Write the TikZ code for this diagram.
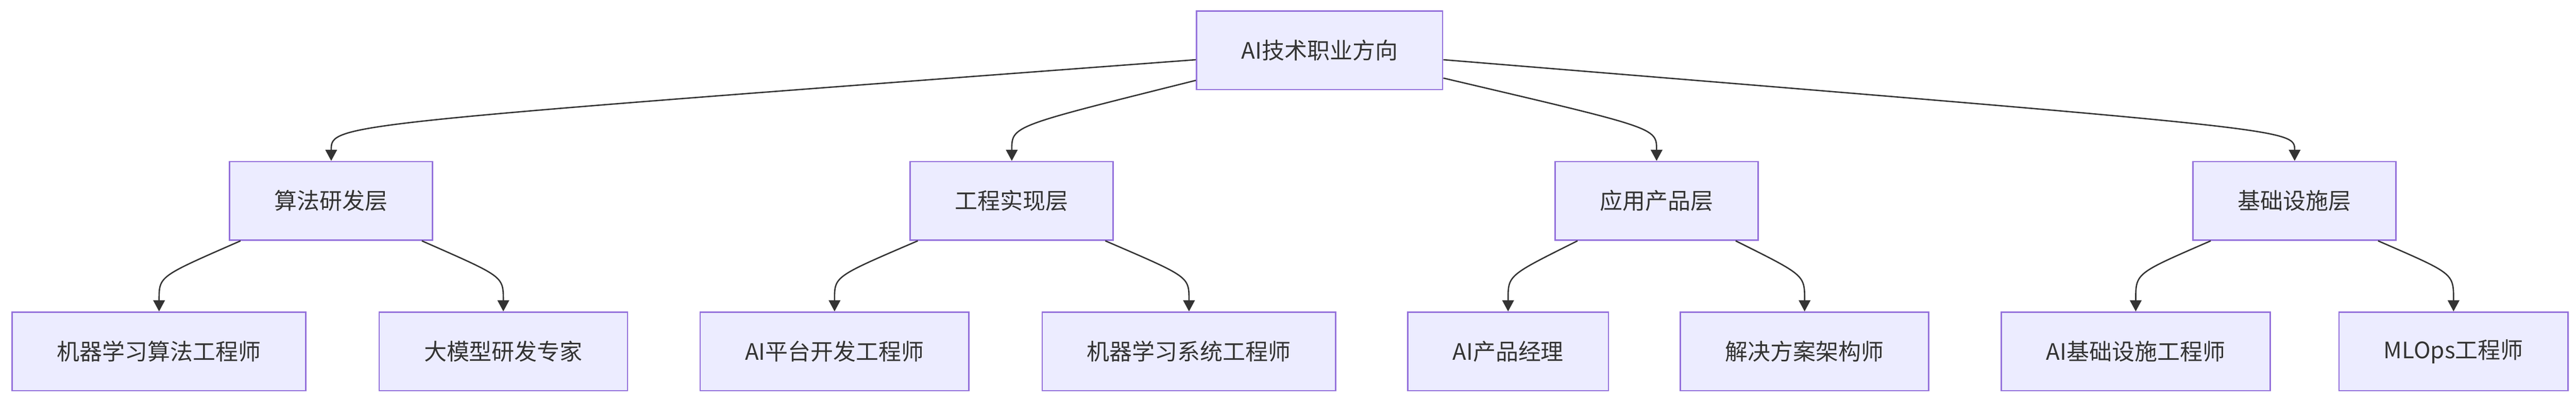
\documentclass[tikz,border=0pt]{standalone}
\usepackage{fontspec}
\setmainfont{Noto Sans CJK SC}
\usetikzlibrary{arrows.meta}

\definecolor{boxfill}{HTML}{ECECFF}
\definecolor{boxline}{HTML}{9370DB}
\definecolor{inkgray}{HTML}{333333}

\tikzstyle{block} = [
    rectangle,
    minimum height=40.75pt,
    inner xsep=23.25pt,
    text centered,
    text=inkgray,
    font=\fontsize{11.75pt}{14pt}\selectfont,
    draw=boxline,
    line width=0.75pt,
    fill=boxfill,
]
\tikzstyle{arrow} = [
    draw=inkgray,
    line width=0.7pt,
    -{Triangle[length=5.75pt,width=6pt]},
]

\begin{document}
\begin{tikzpicture}[node distance=78.125pt]
        \useasboundingbox (-684.25pt,-182.375pt) rectangle (651.5pt,26.125pt);
        \node (root) [block] {AI技术职业方向};
        % second row
        \node (algo) [block, below of=root, xshift=-512.5pt] {算法研发层};
        \node (eng) [block, below of=root, xshift=-159.6pt] {工程实现层};
        \node (app) [block, below of=root, xshift=174.75pt] {应用产品层};
        \node (infra) [block, below of=root, xshift=505.6pt] {基础设施层};
        % third row
        \node (mlalgo) [block, below of=algo, xshift=-89.25pt] {机器学习算法工程师};
        \node (llm) [block, below of=algo, xshift=89.25pt] {大模型研发专家};
        \node (platform) [block, below of=eng, xshift=-91.9pt] {AI平台开发工程师};
        \node (mlsys) [block, below of=eng, xshift=91.9pt] {机器学习系统工程师};
        \node (pm) [block, below of=app, xshift=-77pt] {AI产品经理};
        \node (arch) [block, below of=app, xshift=76.75pt] {解决方案架构师};
        \node (aiinfra) [block, below of=infra, xshift=-82.4pt] {AI基础设施工程师};
        \node (mlops) [block, below of=infra, xshift=82.4pt] {MLOps工程师};
        \draw [arrow] ([yshift=-4.875pt]root.west) .. controls +(-448.5pt,-33.7pt) and +(0,19.3pt) .. (algo.north);
        \draw [arrow] ([yshift=-15.6pt]root.west) .. controls +(-95.75pt,-23.95pt) and +(0,18.3pt) .. (eng.north);
        \draw [arrow] ([yshift=-14.4pt]root.east) .. controls +(111pt,-26.1pt) and +(0,17.4pt) .. (app.north);
        \draw [arrow] ([yshift=-4.875pt]root.east) .. controls +(441.9pt,-36.2pt) and +(0,16.8pt) .. (infra.north);
        \draw [arrow] ([xshift=6pt]algo.south west) .. controls +(-42.75pt,-18.75pt) and +(0,18.5pt) .. (mlalgo.north);
        \draw [arrow] ([xshift=-6pt]algo.south east) .. controls +(42.5pt,-18.75pt) and +(0,18.5pt) .. (llm.north);
        \draw [arrow] ([xshift=4.25pt]eng.south west) .. controls +(-44pt,-18.9pt) and +(0,18.3pt) .. (platform.north);
        \draw [arrow] ([xshift=-4.5pt]eng.south east) .. controls +(43.75pt,-18.9pt) and +(0,18.3pt) .. (mlsys.north);
        \draw [arrow] ([xshift=12pt]app.south west) .. controls +(-36.5pt,-18.25pt) and +(0,19pt) .. (pm.north);
        \draw [arrow] ([xshift=-12pt]app.south east) .. controls +(36.25pt,-18.1pt) and +(0,19pt) .. (arch.north);
        \draw [arrow] ([xshift=9.5pt]infra.south west) .. controls +(-39.25pt,-17.1pt) and +(0,20.1pt) .. (aiinfra.north);
        \draw [arrow] ([xshift=-9.75pt]infra.south east) .. controls +(39.6pt,-17.25pt) and +(0,20pt) .. (mlops.north);
\end{tikzpicture}
\end{document}
